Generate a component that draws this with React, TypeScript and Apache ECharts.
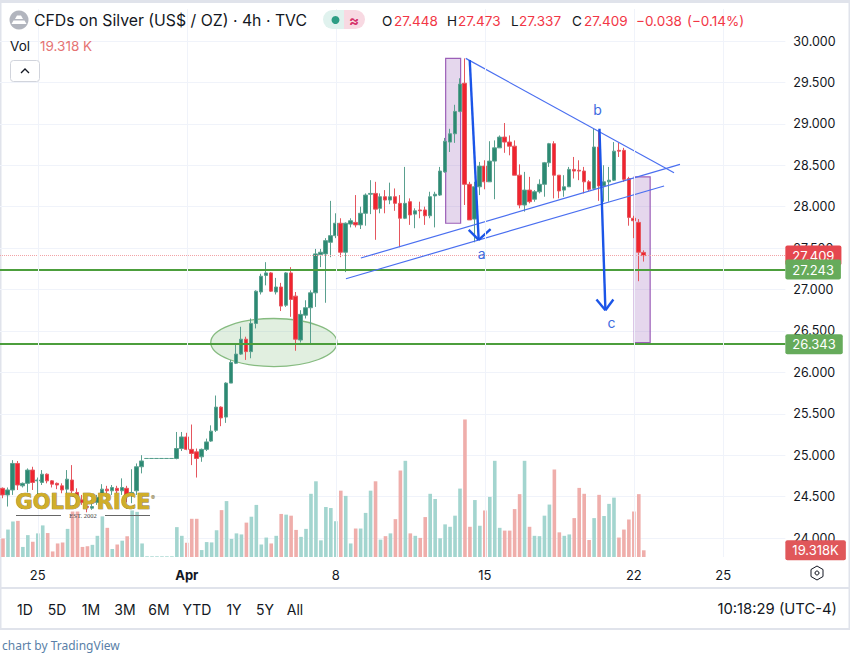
import React, { useEffect, useRef } from "react";
import * as echarts from "echarts";

// ---- chart values ----
const opens = [24.60,24.52,24.58,24.90,24.63,24.66,24.82,24.69,24.67,24.77,24.69,24.66,24.63,24.59,24.70,24.55,24.46,24.38,24.36,24.43,24.52,24.59,24.57,24.60,24.57,24.60,24.52,24.57,24.86,24.96,24.96,24.96,24.96,24.96,24.96,24.96,25.08,25.22,25.07,25.04,24.98,25.07,25.17,25.30,25.58,25.46,25.87,26.11,26.22,26.40,26.25,26.59,26.97,27.17,27.20,26.97,27.03,26.81,27.20,26.92,26.39,26.69,26.78,26.96,27.42,27.43,27.57,27.65,27.80,27.45,27.79,27.81,27.78,27.92,28.15,28.16,27.98,28.12,28.08,28.12,28.04,27.86,28.06,27.91,27.96,27.96,27.89,28.13,28.14,28.42,28.78,28.88,29.15,29.49,28.27,27.85,28.24,28.49,28.30,28.55,28.71,28.84,28.78,28.73,28.38,28.02,28.20,28.09,28.18,28.27,28.53,28.76,28.38,28.20,28.24,28.45,28.44,28.43,28.30,28.22,28.72,28.25,28.30,28.32,28.68,28.68,28.34,27.86,27.81,27.448];
const highs = [24.61,24.61,24.94,24.93,24.67,24.84,24.86,24.73,24.82,24.78,24.70,24.67,24.66,24.82,24.88,24.60,24.52,24.46,24.46,24.52,24.65,24.63,24.64,24.63,24.72,24.63,24.83,24.90,25.00,24.96,24.96,24.96,24.96,24.96,24.96,25.28,25.28,25.27,25.37,25.08,25.08,25.20,25.36,25.72,25.59,25.88,26.15,26.34,26.55,26.43,26.65,26.99,27.19,27.33,27.21,27.14,27.08,27.21,27.27,26.97,26.75,26.87,26.99,27.49,27.49,27.62,28.07,27.92,27.86,27.81,27.86,28.14,28.00,28.16,28.32,28.30,28.16,28.20,28.29,28.22,28.14,28.48,28.10,27.98,28.06,28.00,28.18,28.18,28.48,28.83,28.94,29.23,29.55,29.79,28.30,28.30,28.54,28.56,28.79,28.80,28.86,29.01,28.86,28.80,28.51,28.42,28.36,28.20,28.33,28.54,28.77,28.79,28.38,28.38,28.48,28.60,28.56,28.48,28.32,28.94,28.92,28.50,28.48,28.78,28.77,28.71,28.36,27.89,27.85,27.473];
const lows = [24.48,24.38,24.52,24.58,24.61,24.55,24.58,24.53,24.64,24.66,24.61,24.59,24.54,24.52,24.54,24.40,24.40,24.31,24.34,24.40,24.48,24.52,24.52,24.49,24.52,24.43,24.42,24.52,24.78,24.96,24.96,24.96,24.96,24.96,24.96,24.95,25.05,25.06,24.88,24.73,24.92,25.05,25.16,25.28,25.35,25.39,25.87,26.10,26.21,26.15,26.17,26.53,26.94,27.05,26.97,26.94,26.74,26.79,26.67,26.26,26.36,26.65,26.33,26.79,27.27,26.84,27.39,27.62,27.39,27.21,27.75,27.75,27.73,27.77,27.91,27.60,27.92,27.92,28.03,27.95,27.51,27.85,27.78,27.74,27.86,27.78,27.86,27.75,28.13,28.41,28.66,28.77,29.14,28.02,27.84,27.57,28.14,28.21,28.30,28.09,28.71,28.65,28.62,28.38,27.98,27.94,28.04,28.06,28.16,28.12,28.48,28.10,28.10,28.12,28.24,28.34,28.32,28.16,28.19,28.20,28.07,28.06,28.06,28.31,28.60,28.30,27.77,27.62,27.10,27.337];
const closes = [24.52,24.58,24.90,24.64,24.66,24.82,24.67,24.70,24.77,24.69,24.65,24.64,24.58,24.71,24.57,24.51,24.43,24.37,24.38,24.49,24.59,24.57,24.61,24.57,24.61,24.52,24.55,24.86,24.93,24.96,24.96,24.96,24.96,24.96,24.96,25.08,25.22,25.07,25.02,24.96,25.07,25.16,25.29,25.58,25.45,25.87,26.12,26.22,26.40,26.25,26.59,26.98,27.16,27.20,26.98,27.03,26.80,27.20,26.88,26.40,26.70,26.78,26.96,27.43,27.45,27.59,27.65,27.80,27.45,27.80,27.83,27.78,27.92,28.14,28.16,27.97,28.12,28.08,28.12,28.04,27.86,28.04,27.90,27.95,27.95,27.89,28.12,28.15,28.43,28.79,28.88,29.15,29.48,28.27,27.84,28.24,28.49,28.30,28.55,28.71,28.84,28.78,28.73,28.38,28.02,28.20,28.06,28.18,28.27,28.53,28.76,28.38,28.19,28.24,28.45,28.43,28.43,28.30,28.21,28.72,28.25,28.30,28.32,28.67,28.67,28.33,27.87,27.83,27.45,27.409];
const volumes = [53,79,102,104,29,63,44,68,91,69,16,39,42,81,131,131,29,31,35,61,117,84,23,36,47,60,134,130,39,2,2,2,2,2,2,86,61,41,110,110,20,43,42,77,135,161,52,68,65,99,116,150,36,56,39,61,124,122,119,78,58,81,182,218,48,144,141,103,191,176,39,82,82,127,191,218,50,60,68,109,249,277,68,61,55,115,182,167,54,94,87,119,197,396,87,164,90,134,173,277,84,76,76,138,181,277,87,61,60,119,151,252,71,61,65,112,199,182,49,112,179,118,153,171,56,79,108,131,181,19.318];

const TOTAL_SLOTS = 158;
const tickSlots = [7, 37, 67, 97, 127, 145];
const tickTexts = ["25", "Apr", "8", "15", "22", "25"];
const gridSlots = [7, 37, 67, 97, 127, 145];

const lastPrice = 27.409;
const lastVolume = 19.318;
const supportLevels = [27.243, 26.343];

// annotation drawings, in [bar index, price]
const thinTrendLines = [
  [93.2, 29.79, 135.1, 28.41],
  [72.1, 27.38, 136.3, 28.51],
  [69.1, 27.13, 133.1, 28.25],
];
const boldArrowLines = [
  [94.0, 29.77, 95.8, 27.6],
  [93.8, 27.72, 95.8, 27.6],
  [98.2, 27.73, 95.8, 27.6],
  [120.1, 28.94, 121.3, 26.75],
  [119.5, 26.88, 121.3, 26.75],
  [122.9, 26.88, 121.3, 26.75],
];
const zoneBoxes = [
  [89.16, 29.79, 92.17, 27.8],
  [127.1, 28.36, 130.3, 26.36],
];
const supportEllipse = [[54.6, 26.36, 67.3, 26.65]];
const waveLabels = ["a", "b", "c"];
const wavePoints = [
  [96.4, 27.44],
  [119.7, 29.17],
  [122.5, 26.6],
];

const periodButtons = ["1D", "5D", "1M", "3M", "6M", "YTD", "1Y", "5Y", "All"];
const periodCenters = [25, 57, 91, 125, 159, 197, 234, 265, 295];

const FONT = "Inter, 'Noto Sans', sans-serif";
const INK = "#131722";
const RED = "#f23645";
const GRID = "#f0f3fa";
const BAND = "#e0e3eb";

function txt(x: number, y: number, text: string, fill: string, size = 13.5, align = "left", weight = "normal", family = FONT) {
  return {
    type: "text", x, y, z: 100, silent: true,
    style: { text, fill, font: `${weight} ${size}px ${family}`, textAlign: align, textVerticalAlign: "middle" },
  };
}

function buildGraphic() {
  const out: any[] = [
    { type: "rect", z: -1, silent: true, shape: { x: 0, y: 0, width: 850, height: 3 }, style: { fill: BAND } },
    { type: "rect", z: -1, silent: true, shape: { x: 0, y: 0, width: 1.5, height: 630 }, style: { fill: BAND } },
    { type: "rect", z: -1, silent: true, shape: { x: 848.5, y: 0, width: 1.5, height: 630 }, style: { fill: BAND } },
    { type: "rect", z: -1, silent: true, shape: { x: 0, y: 587, width: 850, height: 2 }, style: { fill: BAND } },
    { type: "rect", z: -1, silent: true, shape: { x: 0, y: 628, width: 850, height: 2 }, style: { fill: BAND } },
    // symbol icon
    { type: "circle", z: 100, silent: true, shape: { cx: 19, cy: 20, r: 9.5 }, style: { fill: "#b2b5be" } },
    { type: "polygon", z: 101, silent: true, shape: { points: [[15, 19], [17, 15.5], [21, 15.5], [23, 19]] }, style: { fill: "#fff" } },
    { type: "polygon", z: 101, silent: true, shape: { points: [[11.5, 24], [13.5, 20.5], [24.5, 20.5], [26.5, 24]] }, style: { fill: "#fff" } },
    txt(34, 20.5, "CFDs on Silver (US$ / OZ) · 4h · TVC", INK, 15.8),
    // status pill
    { type: "rect", z: 100, silent: true, shape: { x: 323, y: 10, width: 21, height: 19, r: [9.5, 0, 0, 9.5] }, style: { fill: "#e0f2ee" } },
    { type: "rect", z: 100, silent: true, shape: { x: 344, y: 10, width: 21, height: 19, r: [0, 9.5, 9.5, 0] }, style: { fill: "#f8d9e2" } },
    { type: "circle", z: 101, silent: true, shape: { cx: 335.5, cy: 20, r: 4 }, style: { fill: "#2e9e85" } },
    txt(354, 20, "≈", "#d6336c", 15, "center", "bold"),
    // OHLC
    txt(382, 20.5, "O", INK), txt(394, 20.5, "27.448", RED),
    txt(447, 20.5, "H", INK), txt(458, 20.5, "27.473", RED),
    txt(511, 20.5, "L", INK), txt(519, 20.5, "27.337", RED),
    txt(572, 20.5, "C", INK), txt(584, 20.5, "27.409", RED),
    txt(636, 20.5, "−0.038", RED), txt(687, 20.5, "(−0.14%)", RED),
    // volume legend
    txt(10, 46, "Vol", INK), txt(40, 46, "19.318 K", "#e57373"),
    // collapse button
    { type: "rect", z: 100, silent: true, shape: { x: 10.5, y: 60.5, width: 29, height: 21, r: 3 }, style: { fill: "#fff", stroke: "#d1d4dc", lineWidth: 1 } },
    { type: "polyline", z: 101, silent: true, shape: { points: [[21, 73], [25, 69], [29, 73]] }, style: { stroke: INK, lineWidth: 1.3, fill: "none" } },
    // settings icon
    { type: "polygon", z: 100, silent: true, shape: { points: [[817, 566], [823, 569.5], [823, 576.5], [817, 580], [811, 576.5], [811, 569.5]] }, style: { fill: "none", stroke: INK, lineWidth: 1 } },
    { type: "circle", z: 100, silent: true, shape: { cx: 817, cy: 573, r: 2 }, style: { fill: "none", stroke: INK, lineWidth: 1 } },
    // clock and footer
    txt(837, 609, "10:18:29 (UTC-4)", INK, 14.8, "right"),
    txt(2, 645, "chart by TradingView", "#5a7fa8", 12, "left", "normal", "'Noto Sans', sans-serif"),
    // logo
    { type: "text", x: 83, y: 502, z: 100, silent: true, style: { text: "GOLDPRICE", fill: "#d0ae2a", stroke: "#7d6815", lineWidth: 0.7, font: "bold 21px 'DejaVu Sans', sans-serif", textAlign: "center", textVerticalAlign: "middle" } },
    txt(153, 497, "®", "#7a6a20", 6, "center"),
    txt(83, 515.5, "EST. 2002", "#444", 6.5, "center", "normal", "'Liberation Serif', serif"),
    { type: "line", z: 100, silent: true, shape: { x1: 16, y1: 515.5, x2: 61, y2: 515.5 }, style: { stroke: "#666", lineWidth: 1 } },
    { type: "line", z: 100, silent: true, shape: { x1: 105, y1: 515.5, x2: 150, y2: 515.5 }, style: { stroke: "#666", lineWidth: 1 } },
  ];
  periodButtons.forEach((b, i) => out.push(txt(periodCenters[i], 609, b, INK, 14, "center")));
  return out;
}

function priceTag(color: string, text: string) {
  return {
    show: true, position: "end", distance: 0, formatter: text, color: "#fff",
    fontFamily: FONT, fontSize: 13, backgroundColor: color, borderRadius: 2,
    padding: [4, 7, 3, 7], align: "left",
  };
}

function lineSeries(name: string, rows: number[][], stroke: string, width: number) {
  return {
    type: "custom", name, xAxisIndex: 2, yAxisIndex: 1, z: 6, silent: true, clip: false, data: rows,
    renderItem: (_p: any, api: any) => {
      const a = api.coord([api.value(0), api.value(1)]);
      const b = api.coord([api.value(2), api.value(3)]);
      return { type: "line", shape: { x1: a[0], y1: a[1], x2: b[0], y2: b[1] }, style: { stroke, lineWidth: width } };
    },
  };
}

export default function App() {
  const ref = useRef<HTMLDivElement>(null);
  useEffect(() => {
    document.body.style.margin = "0";
    const chart = echarts.init(ref.current!, undefined, { renderer: "svg" });
    const categories = Array.from({ length: TOTAL_SLOTS }, (_, i) => {
      const k = tickSlots.indexOf(i);
      return k >= 0 ? tickTexts[k] : "";
    });
    const left = -1.49;
    const width = TOTAL_SLOTS * 4.98;
    const isUp = (i: number) => closes[i] >= opens[i];

    chart.setOption({
      animation: false,
      backgroundColor: "#ffffff",
      textStyle: { fontFamily: FONT },
      graphic: buildGraphic(),
      grid: [
        { left, width, top: 9, height: 548 },
        { left, width, top: 41, height: 497 },
      ],
      xAxis: [
        {
          type: "category", gridIndex: 0, data: categories, boundaryGap: true,
          axisLine: { show: false }, axisTick: { show: false }, splitLine: { show: false },
          axisLabel: {
            interval: 0, margin: 11, color: INK, fontSize: 13, fontFamily: FONT,
            formatter: (v: string) => (v === "Apr" ? "{b|Apr}" : v),
            rich: { b: { fontWeight: "bold", fontSize: 13, color: INK, fontFamily: FONT } },
          },
        },
        { type: "category", gridIndex: 1, data: categories, show: false },
        { type: "value", gridIndex: 1, min: -0.5, max: TOTAL_SLOTS - 0.5, show: false, splitLine: { show: false } },
      ],
      yAxis: [
        { type: "value", gridIndex: 0, min: 0, max: 1578, show: false, splitLine: { show: false } },
        {
          type: "value", gridIndex: 1, position: "right", min: 24, max: 30, interval: 0.5, z: 0,
          axisLine: { show: false }, axisTick: { show: false },
          splitLine: { show: true, lineStyle: { color: GRID, width: 1 } },
          axisLabel: { margin: 8, color: INK, fontSize: 12.5, fontFamily: FONT, formatter: (v: number) => v.toFixed(3) },
        },
      ],
      series: [
        {
          type: "bar", name: "Vol", xAxisIndex: 0, yAxisIndex: 0, z: 1, barWidth: 3.6,
          data: volumes.map((v, i) => ({
            value: v,
            itemStyle: { color: isUp(i) ? "#a3d5cf" : "#efaeab" },
          })),
          markLine: {
            silent: true, symbol: "none", animation: false, z: 8,
            data: [
              ...gridSlots.map((s) => ({ xAxis: s, lineStyle: { color: GRID, width: 1, type: "solid" }, label: { show: false } })),
              { yAxis: lastVolume, lineStyle: { color: "rgba(0,0,0,0)", width: 0 }, label: priceTag("#e0575a", "19.318K") },
            ],
          },
        },
        {
          type: "candlestick", name: "CFDs on Silver", xAxisIndex: 1, yAxisIndex: 1, z: 3, barWidth: 4,
          data: opens.map((o, i) => [o, closes[i], lows[i], highs[i]]),
          itemStyle: { color: "#2c8a73", color0: "#f0242f", borderColor: "#5aa08f", borderColor0: "#e5565e", borderWidth: 1 },
          markLine: {
            silent: true, symbol: "none", animation: false, z: 4,
            data: [
              { yAxis: lastPrice, lineStyle: { color: "#f2a3a6", width: 1, type: "dotted" }, label: priceTag("#e5474f", "27.409") },
              ...supportLevels.map((v) => ({ yAxis: v, lineStyle: { color: "#4c9e3c", width: 2, type: "solid" }, label: priceTag("#66ab5b", v.toFixed(3)) })),
            ],
          },
        },
        {
          type: "custom", name: "zones", xAxisIndex: 2, yAxisIndex: 1, z: 2, silent: true, clip: false, data: zoneBoxes,
          renderItem: (_p: any, api: any) => {
            const a = api.coord([api.value(0), api.value(1)]);
            const b = api.coord([api.value(2), api.value(3)]);
            return {
              type: "rect",
              shape: { x: a[0], y: a[1], width: b[0] - a[0], height: b[1] - a[1] },
              style: { fill: "rgba(150,95,185,0.25)", stroke: "#9c5fb8", lineWidth: 1.2 },
            };
          },
        },
        {
          type: "custom", name: "support", xAxisIndex: 2, yAxisIndex: 1, z: 2, silent: true, clip: false, data: supportEllipse,
          renderItem: (_p: any, api: any) => {
            const c = api.coord([api.value(0), api.value(1)]);
            const e = api.coord([api.value(2), api.value(3)]);
            return {
              type: "ellipse",
              shape: { cx: c[0], cy: c[1], rx: e[0] - c[0], ry: c[1] - e[1] },
              style: { fill: "rgba(76,160,70,0.17)", stroke: "#86bb80", lineWidth: 1.3 },
            };
          },
        },
        lineSeries("trend", thinTrendLines, "#4a6ff0", 1.2),
        lineSeries("arrows", boldArrowLines, "#1b55e8", 2.4),
        {
          type: "custom", name: "waves", xAxisIndex: 2, yAxisIndex: 1, z: 7, silent: true, clip: false, data: wavePoints,
          renderItem: (p: any, api: any) => {
            const c = api.coord([api.value(0), api.value(1)]);
            return {
              type: "text", x: c[0], y: c[1],
              style: { text: waveLabels[p.dataIndex], fill: "#3d6be0", font: `14px ${FONT}`, textAlign: "center", textVerticalAlign: "middle" },
            };
          },
        },
      ],
    });
    return () => chart.dispose();
  }, []);
  return <div ref={ref} style={{ position: "absolute", left: 0, top: 0, width: 850, height: 660 }} />;
}
